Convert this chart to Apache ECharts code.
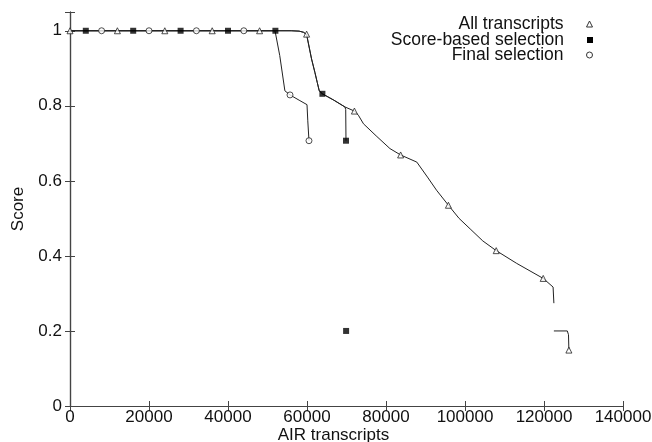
<!DOCTYPE html>
<html>
<head>
<meta charset="utf-8">
<script src="https://cdn.jsdelivr.net/npm/echarts@6/dist/echarts.min.js"></script>
<style>
  html, body { margin: 0; padding: 0; background: #fff; }
  #chart { width: 652px; height: 442px; }
</style>
</head>
<body>
<div id="chart"></div>
<script>
// curve of all transcripts (null = gap in the line)
const allX = [0, 56000, 58000, 59100, 59900, 61150, 62000, 62600, 63100, 63900, 66800, 69600, 72000, 73000, 74300,
  77500, 81000, 83700, 87800, 90500, 92800, 95800, 98500, 101300, 104500, 107900, 113100, 119800, 122300, 122500,
  122500, 122500, 125900, 126200, 126300];
const allY = [1, 1, 0.999, 0.996, 0.99, 0.925, 0.889, 0.862, 0.84, 0.832, 0.815, 0.797, 0.786, 0.775, 0.752,
  0.72, 0.686, 0.669, 0.65, 0.61, 0.575, 0.535, 0.5, 0.472, 0.44, 0.414, 0.38, 0.34, 0.317, 0.274,
  null, 0.2, 0.2, 0.19, 0.149];

const scoreX = [0, 56000, 58000, 59100, 59900, 61150, 62000, 62600, 63100, 63900, 66800, 69600, 69800, 69870];
const scoreY = [1, 1, 0.999, 0.996, 0.99, 0.925, 0.889, 0.862, 0.84, 0.832, 0.815, 0.797, 0.79, 0.707];

const finalX = [0, 51900, 53100, 54400, 55700, 58000, 60000, 60200, 60500];
const finalY = [1, 1, 0.934, 0.84, 0.829, 0.815, 0.803, 0.76, 0.707];

// where the point symbols sit
const allMarkX = [0, 12000, 24000, 36000, 48000, 59900, 72000, 83700, 95800, 107900, 119800, 126300];
const allMarkY = [1, 1, 1, 1, 1, 0.991, 0.786, 0.669, 0.535, 0.414, 0.34, 0.149];
const scoreMarkX = [4000, 16000, 28000, 40000, 52000, 63900, 69870, 69900];
const scoreMarkY = [1, 1, 1, 1, 1, 0.832, 0.707, 0.2];
const finalMarkX = [8000, 20000, 32000, 44000, 55700, 60500];
const finalMarkY = [1, 1, 1, 1, 0.829, 0.707];

const seriesNames = ["All transcripts", "Score-based selection", "Final selection"];

const font = "Liberation Sans, Arial, sans-serif";
const ink = "#111";

function pairs(xs, ys) {
  return xs.map((x, i) => [x, ys[i] === null ? "-" : ys[i]]);
}

const myChart = echarts.init(document.getElementById("chart"));

function lineSeries(name, xs, ys) {
  return {
    name: name,
    type: "line",
    data: pairs(xs, ys),
    showSymbol: false,
    symbol: "none",
    connectNulls: false,
    lineStyle: { color: "#222", width: 1 },
    itemStyle: { color: "#222" },
    silent: true,
    z: 2
  };
}

function markSeries(name, xs, ys, symbol, size, filled) {
  return {
    name: name,
    type: "scatter",
    data: pairs(xs, ys),
    symbol: symbol,
    symbolSize: size,
    itemStyle: filled
      ? { color: "#000" }
      : { color: "#fff", borderColor: "#222", borderWidth: 1 },
    z: 3
  };
}

function legendFor(i, icon, filled, top) {
  return {
    orient: "vertical",
    align: "right",
    right: 59,
    top: top,
    padding: 0,
    itemWidth: 6,
    itemHeight: 6,
    selectedMode: false,
    textStyle: { fontFamily: font, fontSize: 17.5, color: ink, lineHeight: 15, padding: [0, 18, 0, 0] },
    data: [{
      name: seriesNames[i],
      icon: icon,
      itemStyle: filled
        ? { color: "#000", borderWidth: 0 }
        : { color: "#fff", borderColor: "#333", borderWidth: 1 }
    }]
  };
}

const axisLine = { show: true, lineStyle: { color: "#444", width: 1.2 } };
const tick = { show: true, inside: true, length: 5, lineStyle: { color: "#444" } };

const option = {
  backgroundColor: "#fff",
  animation: false,
  grid: { left: 70, right: 29, top: 12, bottom: 36, outerBoundsMode: "none", containLabel: false },
  legend: [
    legendFor(0, "triangle", false, 15),
    legendFor(1, "rect", true, 31),
    legendFor(2, "circle", false, 46)
  ],
  xAxis: [{
    type: "value",
    min: 0,
    max: 140000,
    interval: 20000,
    name: "AIR transcripts",
    nameLocation: "middle",
    nameGap: 21,
    nameMoveOverlap: false,
    nameTextStyle: { fontFamily: font, fontSize: 17, color: ink, padding: [0, 26, 0, 0] },
    axisLine: axisLine,
    axisTick: tick,
    splitLine: { show: false },
    axisLabel: { fontFamily: font, fontSize: 17, color: ink, margin: 3, formatter: v => String(v) }
  }, {
    type: "value",
    position: "top",
    min: 0,
    max: 140000,
    interval: 20000,
    axisLine: axisLine,
    axisTick: tick,
    splitLine: { show: false },
    axisLabel: { show: false }
  }],
  yAxis: [{
    type: "value",
    min: 0,
    max: 1.05,
    interval: 0.2,
    name: "Score",
    nameLocation: "middle",
    nameGap: 43,
    nameMoveOverlap: false,
    nameTextStyle: { fontFamily: font, fontSize: 17, color: ink },
    axisLine: axisLine,
    axisTick: tick,
    splitLine: { show: false },
    axisLabel: {
      fontFamily: font, fontSize: 17, color: ink, margin: 8,
      formatter: v => (Math.abs(v * 5 - Math.round(v * 5)) < 1e-6 ? String(+v.toFixed(1)) : "")
    }
  }, {
    type: "value",
    position: "right",
    min: 0,
    max: 1.05,
    interval: 0.2,
    axisLine: axisLine,
    axisTick: tick,
    splitLine: { show: false },
    axisLabel: { show: false }
  }],
  series: [
    lineSeries(seriesNames[0], allX, allY),
    lineSeries(seriesNames[1], scoreX, scoreY),
    lineSeries(seriesNames[2], finalX, finalY),
    markSeries(seriesNames[0], allMarkX, allMarkY, "triangle", 6, false),
    markSeries(seriesNames[1], scoreMarkX, scoreMarkY, "rect", 6, true),
    markSeries(seriesNames[2], finalMarkX, finalMarkY, "circle", 6, false)
  ]
};

myChart.setOption(option);
</script>
</body>
</html>
